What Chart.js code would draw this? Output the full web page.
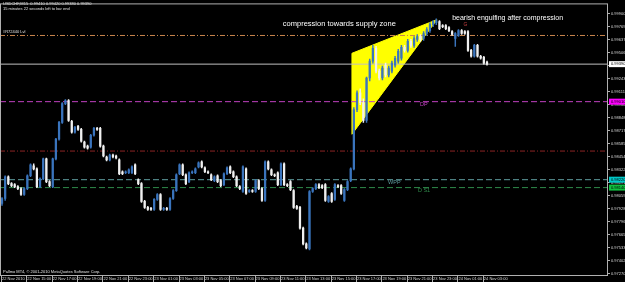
<!DOCTYPE html>
<html>
<head>
<meta charset="utf-8">
<script src="https://cdn.jsdelivr.net/npm/chart.js@4.4.1/dist/chart.umd.min.js"></script>
<style>
  html, body { margin: 0; padding: 0; background: #000; }
  #wrap { width: 625px; height: 282px; }
</style>
</head>
<body>
<div id="wrap"><canvas id="chart"></canvas></div>
<script>
// USDCHF M15 - bar 0 is 22 Nov 2010 13:00, one bar every 15 minutes
const opens = [
  0.9798, 0.9803, 0.9825, 0.9818, 0.9817, 0.9815, 0.9813, 0.9807, 0.9813, 0.9826,
  0.9836, 0.9833, 0.9815, 0.9823, 0.9843, 0.9820, 0.9815, 0.9843, 0.9863, 0.9880,
  0.9899, 0.9902, 0.9881, 0.9870, 0.9876, 0.9873, 0.9860, 0.9856, 0.9855, 0.9867,
  0.9874, 0.9874, 0.9856, 0.9845, 0.9842, 0.9847, 0.9846, 0.9842, 0.9830, 0.9829,
  0.9829, 0.9829, 0.9837, 0.9822, 0.9818, 0.9800, 0.9794, 0.9793, 0.9792, 0.9802,
  0.9807, 0.9792, 0.9793, 0.9792, 0.9803, 0.9811, 0.9828, 0.9837, 0.9827, 0.9820,
  0.9829, 0.9829, 0.9835, 0.9840, 0.9834, 0.9830, 0.9827, 0.9821, 0.9826, 0.9821,
  0.9817, 0.9828, 0.9835, 0.9830, 0.9825, 0.9815, 0.9810, 0.9833, 0.9810, 0.9811,
  0.9810, 0.9821, 0.9813, 0.9801, 0.9840, 0.9832, 0.9827, 0.9829, 0.9817, 0.9838,
  0.9817, 0.9820, 0.9811, 0.9795, 0.9794, 0.9773, 0.9757, 0.9752, 0.9810, 0.9813,
  0.9817, 0.9816, 0.9817, 0.9800, 0.9808, 0.9802, 0.9816, 0.9816, 0.9801, 0.9812,
  0.9821, 0.9833, 0.9893, 0.9910, 0.9900, 0.9882, 0.9925, 0.9942, 0.9955, 0.9932,
  0.9925, 0.9938, 0.9928, 0.9932, 0.9938, 0.9942, 0.9945, 0.9956, 0.9953, 0.9962,
  0.9958, 0.9964, 0.9967, 0.9965, 0.9970, 0.9973, 0.9979, 0.9981, 0.9982, 0.9978,
  0.9978, 0.9976, 0.9972, 0.9965, 0.9968, 0.9973, 0.9972, 0.9972, 0.9953, 0.9947,
  0.9958, 0.9947, 0.9946, 0.9941
];
const highs = [
  0.9804, 0.9826, 0.9826, 0.9819, 0.9818, 0.9816, 0.9814, 0.9814, 0.9827, 0.9838,
  0.9838, 0.9834, 0.9824, 0.9844, 0.9844, 0.9821, 0.9844, 0.9864, 0.9881, 0.9900,
  0.9903, 0.9903, 0.9882, 0.9876, 0.9877, 0.9874, 0.9861, 0.9857, 0.9868, 0.9875,
  0.9875, 0.9875, 0.9857, 0.9846, 0.9848, 0.9848, 0.9847, 0.9843, 0.9831, 0.9831,
  0.9833, 0.9836, 0.9838, 0.9823, 0.9819, 0.9801, 0.9795, 0.9794, 0.9803, 0.9808,
  0.9808, 0.9794, 0.9794, 0.9804, 0.9812, 0.9828, 0.9838, 0.9838, 0.9828, 0.9830,
  0.9831, 0.9834, 0.9840, 0.9841, 0.9835, 0.9831, 0.9828, 0.9826, 0.9827, 0.9822,
  0.9829, 0.9835, 0.9836, 0.9831, 0.9826, 0.9816, 0.9836, 0.9834, 0.9812, 0.9812,
  0.9822, 0.9822, 0.9814, 0.9841, 0.9841, 0.9833, 0.9828, 0.9830, 0.9839, 0.9839,
  0.9818, 0.9821, 0.9812, 0.9796, 0.9795, 0.9774, 0.9758, 0.9811, 0.9814, 0.9818,
  0.9818, 0.9817, 0.9818, 0.9806, 0.9809, 0.9818, 0.9817, 0.9817, 0.9813, 0.9821,
  0.9834, 0.9895, 0.9912, 0.9914, 0.9904, 0.9926, 0.9944, 0.9958, 0.9957, 0.9934,
  0.9937, 0.9940, 0.9937, 0.9942, 0.9947, 0.9954, 0.9958, 0.9958, 0.9964, 0.9964,
  0.9967, 0.9969, 0.9969, 0.9972, 0.9976, 0.9981, 0.9983, 0.9985, 0.9983, 0.9979,
  0.9979, 0.9977, 0.9973, 0.9971, 0.9974, 0.9974, 0.9973, 0.9973, 0.9954, 0.9959,
  0.9959, 0.9948, 0.9947, 0.9942
];
const lows = [
  0.9796, 0.9801, 0.9817, 0.9815, 0.9814, 0.9812, 0.9806, 0.9806, 0.9812, 0.9825,
  0.9832, 0.9814, 0.9814, 0.9822, 0.9819, 0.9815, 0.9814, 0.9842, 0.9862, 0.9879,
  0.9898, 0.9881, 0.9869, 0.9869, 0.9872, 0.9860, 0.9854, 0.9853, 0.9854, 0.9866,
  0.9872, 0.9855, 0.9845, 0.9841, 0.9841, 0.9844, 0.9843, 0.9827, 0.9827, 0.9828,
  0.9828, 0.9828, 0.9827, 0.9817, 0.9799, 0.9793, 0.9791, 0.9791, 0.9791, 0.9801,
  0.9791, 0.9791, 0.9791, 0.9791, 0.9802, 0.9810, 0.9827, 0.9826, 0.9817, 0.9819,
  0.9828, 0.9828, 0.9834, 0.9834, 0.9829, 0.9828, 0.9821, 0.9820, 0.9819, 0.9815,
  0.9816, 0.9827, 0.9828, 0.9824, 0.9815, 0.9812, 0.9809, 0.9807, 0.9809, 0.9809,
  0.9809, 0.9812, 0.9800, 0.9800, 0.9832, 0.9826, 0.9825, 0.9816, 0.9816, 0.9816,
  0.9815, 0.9811, 0.9793, 0.9792, 0.9772, 0.9756, 0.9752, 0.9751, 0.9809, 0.9812,
  0.9813, 0.9813, 0.9800, 0.9799, 0.9799, 0.9801, 0.9814, 0.9807, 0.9800, 0.9811,
  0.9820, 0.9832, 0.9891, 0.9898, 0.9880, 0.9880, 0.9922, 0.9940, 0.9930, 0.9923,
  0.9923, 0.9926, 0.9926, 0.9930, 0.9936, 0.9940, 0.9943, 0.9951, 0.9951, 0.9956,
  0.9956, 0.9962, 0.9962, 0.9963, 0.9968, 0.9971, 0.9977, 0.9979, 0.9974, 0.9976,
  0.9974, 0.9972, 0.9968, 0.9957, 0.9967, 0.9969, 0.9969, 0.9952, 0.9946, 0.9946,
  0.9946, 0.9944, 0.9939, 0.9938
];
const closes = [
  0.9803, 0.9825, 0.9818, 0.9816, 0.9815, 0.9813, 0.9807, 0.9813, 0.9826, 0.9837,
  0.9833, 0.9815, 0.9823, 0.9843, 0.9820, 0.9816, 0.9843, 0.9863, 0.9880, 0.9899,
  0.9902, 0.9882, 0.9870, 0.9875, 0.9873, 0.9861, 0.9855, 0.9854, 0.9867, 0.9874,
  0.9873, 0.9856, 0.9846, 0.9842, 0.9847, 0.9845, 0.9844, 0.9828, 0.9828, 0.9830,
  0.9832, 0.9835, 0.9828, 0.9818, 0.9800, 0.9794, 0.9792, 0.9792, 0.9802, 0.9807,
  0.9792, 0.9793, 0.9792, 0.9803, 0.9811, 0.9827, 0.9837, 0.9827, 0.9818, 0.9829,
  0.9830, 0.9833, 0.9839, 0.9835, 0.9830, 0.9829, 0.9822, 0.9825, 0.9820, 0.9816,
  0.9828, 0.9834, 0.9829, 0.9825, 0.9816, 0.9813, 0.9835, 0.9808, 0.9811, 0.9810,
  0.9821, 0.9813, 0.9801, 0.9840, 0.9833, 0.9827, 0.9826, 0.9817, 0.9838, 0.9817,
  0.9816, 0.9812, 0.9794, 0.9793, 0.9773, 0.9757, 0.9753, 0.9810, 0.9813, 0.9817,
  0.9814, 0.9814, 0.9801, 0.9805, 0.9800, 0.9817, 0.9815, 0.9808, 0.9812, 0.9820,
  0.9833, 0.9893, 0.9910, 0.9900, 0.9882, 0.9925, 0.9942, 0.9955, 0.9932, 0.9925,
  0.9935, 0.9928, 0.9935, 0.9940, 0.9945, 0.9952, 0.9956, 0.9953, 0.9962, 0.9958,
  0.9965, 0.9967, 0.9964, 0.9970, 0.9974, 0.9979, 0.9982, 0.9983, 0.9975, 0.9977,
  0.9975, 0.9973, 0.9969, 0.9970, 0.9973, 0.9970, 0.9970, 0.9953, 0.9947, 0.9958,
  0.9947, 0.9945, 0.9940, 0.9939
];

// time axis labels, one every 8 bars (2 hours)
const xTickLabels = [
  "22 Nov 2010", "22 Nov 15:00", "22 Nov 17:00", "22 Nov 19:00", "22 Nov 21:00",
  "22 Nov 23:00", "23 Nov 01:00", "23 Nov 03:00", "23 Nov 05:00", "23 Nov 07:00",
  "23 Nov 09:00", "23 Nov 11:00", "23 Nov 13:00", "23 Nov 15:00", "23 Nov 17:00",
  "23 Nov 19:00", "23 Nov 21:00", "23 Nov 23:00", "24 Nov 01:00", "24 Nov 03:00"
];
const yTickValues = [
  0.99900, 0.99769, 0.99637, 0.99506, 0.99374, 0.99243, 0.99111, 0.98980, 0.98848,
  0.98717, 0.98585, 0.98454, 0.98322, 0.98191, 0.98059, 0.97928, 0.97796, 0.97665,
  0.97533, 0.97402, 0.97270
];

// horizontal levels
const levelNames = ["#R72440 Lvl", "Bid", "DP", "Lvl", "WPP", "D S1"];
const levelPrices = [0.9968, 0.9939, 0.9901, 0.9851, 0.9822, 0.9814];

// compression wedge (bar index, price)
const wedgeX = [110.4, 137.2, 110.4, 110.4];
const wedgeY = [0.9950, 0.9984, 0.9868, 0.9950];

const X_MIN = -0.63, X_MAX = 191.17;

const levelStyles = [
  { color: "#c8844c", dash: [5, 2, 1, 2], box: null },
  { color: "#c0c0c0", dash: [], box: "#ffffff" },
  { color: "#c040c0", dash: [6, 3], box: "#ff00ff" },
  { color: "#8c2424", dash: [5, 2, 1, 2], box: null },
  { color: "#5f9ea0", dash: [6, 3], box: "#00c8c8" },
  { color: "#2f8a4a", dash: [6, 3], box: "#10c040" }
];
// where the level names are written (bar index), null = not written on chart
const levelLabelAt = [0.3, null, 131.9, null, 121.8, 131.2];

const notes = [
  { text: "compression towards supply zone", x: 88.6, y: 0.9980, color: "#ffffff", size: 7.5 },
  { text: "bearish engulfing after compression", x: 142.0, y: 0.9986, color: "#ffffff", size: 7 },
  { text: "G", x: 145.6, y: 0.9979, color: "#c84040", size: 5 }
];

const FONT = "'Liberation Sans', Arial, sans-serif";
const BULL = "#3a74bd", BEAR = "#f0f0f0";

const candleColors = opens.map((o, i) => closes[i] >= o ? BULL : BEAR);
const bodyData = opens.map((o, i) => ({ x: i, y: [o, closes[i]] }));
const wickData = opens.map((o, i) => ({ x: i, y: [lows[i], highs[i]] }));

const datasets = [];
datasets.push({
  type: "bar", data: bodyData, backgroundColor: candleColors,
  barThickness: 1.6, minBarLength: 1, grouped: false, borderWidth: 0, order: 0
});
datasets.push({
  type: "bar", data: wickData, backgroundColor: candleColors,
  barThickness: 0.8, grouped: false, borderWidth: 0, order: 1
});
levelPrices.forEach((p, k) => {
  datasets.push({
    type: "line",
    data: [{ x: X_MIN, y: p }, { x: X_MAX, y: p }],
    borderColor: levelStyles[k].color, borderWidth: 1,
    borderDash: levelStyles[k].dash, pointRadius: 0, fill: false, order: 2
  });
});
datasets.push({
  type: "line",
  data: wedgeX.map((x, i) => ({ x: x, y: wedgeY[i] })),
  borderColor: "#ffff00", backgroundColor: "#ffff00", borderWidth: 1,
  pointRadius: 0, fill: "shape", tension: 0, order: 3
});

const overlay = {
  id: "overlay",
  beforeDraw(chart) {
    const ctx = chart.ctx;
    ctx.save();
    ctx.fillStyle = "#000";
    ctx.fillRect(0, 0, chart.width, chart.height);
    ctx.restore();
  },
  afterDatasetsDraw(chart) {
    const ctx = chart.ctx;
    const xs = chart.scales.x, ys = chart.scales.y;
    ctx.save();
    ctx.textBaseline = "middle";
    ctx.textAlign = "left";
    // level names
    levelPrices.forEach((p, k) => {
      if (levelLabelAt[k] === null) return;
      const px = xs.getPixelForValue(levelLabelAt[k]);
      const py = ys.getPixelForValue(p);
      if (k === 0) {
        ctx.font = "4px " + FONT;
        ctx.fillStyle = "#e0e0e0";
        ctx.fillText(levelNames[k], px, py - 4);
      } else {
        ctx.font = "5.5px " + FONT;
        ctx.fillStyle = levelStyles[k].color;
        ctx.fillText(levelNames[k], px, py + 3);
      }
    });
    notes.forEach(n => {
      ctx.font = n.size + "px " + FONT;
      ctx.fillStyle = n.color;
      ctx.fillText(n.text, xs.getPixelForValue(n.x), ys.getPixelForValue(n.y));
    });
    ctx.restore();
  },
  afterDraw(chart) {
    const ctx = chart.ctx;
    const a = chart.chartArea;
    const xs = chart.scales.x, ys = chart.scales.y;
    ctx.save();
    // frame
    ctx.strokeStyle = "#b0b0b0";
    ctx.lineWidth = 1;
    ctx.strokeRect(a.left + 0.5, a.top + 0.5, a.right - a.left - 1, a.bottom - a.top);
    // time separators under the axis
    xTickLabels.forEach((_, k) => {
      const px = Math.round(xs.getPixelForValue(k * 8)) - 0.5;
      ctx.beginPath();
      ctx.moveTo(px, a.bottom);
      ctx.lineTo(px, chart.height);
      ctx.stroke();
    });
    // price boxes on the right scale
    ctx.font = "4px " + FONT;
    ctx.textBaseline = "middle";
    ctx.textAlign = "left";
    levelPrices.forEach((p, k) => {
      const box = levelStyles[k].box;
      if (!box) return;
      const py = ys.getPixelForValue(p);
      ctx.fillStyle = box;
      ctx.fillRect(a.right + 1, py - 3, chart.width - a.right - 1, 6);
      ctx.fillStyle = "#000";
      ctx.fillText(p.toFixed(5), a.right + 3, py);
    });
    // header and footer text
    ctx.fillStyle = "#e0e0e0";
    ctx.textBaseline = "middle";
    ctx.fillText("USDCHF,M15  0.99410 0.99420 0.99380 0.99390", 3, 4);
    ctx.fillText("15 minutes 22 seconds left to bar end", 3, 9);
    ctx.fillText("Pallmo MT4, \u00a9 2001-2010 MetaQuotes Software Corp.", 3, a.bottom - 3);
    ctx.restore();
  }
};

new Chart(document.getElementById("chart"), {
  type: "bar",
  data: { datasets: datasets },
  options: {
    responsive: true,
    maintainAspectRatio: false,
    animation: false,
    layout: { padding: 0 },
    plugins: { legend: { display: false }, tooltip: { enabled: false } },
    scales: {
      x: {
        type: "linear", position: "bottom", min: X_MIN, max: X_MAX, offset: false,
        grid: { display: true, drawOnChartArea: false, drawTicks: false, offset: false },
        border: { display: false },
        ticks: {
          autoSkip: false, maxRotation: 0, align: "start", padding: 1,
          color: "#d8d8d8", font: { size: 4, family: FONT },
          callback: v => xTickLabels[Math.round(v / 8)] || ""
        },
        afterBuildTicks: s => { s.ticks = xTickLabels.map((_, k) => ({ value: k * 8 })); },
        afterFit: s => { s.height = 7; }
      },
      y: {
        type: "linear", position: "right", min: 0.97255, max: 1.00005,
        grid: { display: true, drawOnChartArea: false, tickLength: 2, color: "#b0b0b0" },
        border: { display: false },
        ticks: {
          padding: 1, color: "#d8d8d8", font: { size: 4, family: FONT },
          callback: v => v.toFixed(5)
        },
        afterBuildTicks: s => { s.ticks = yTickValues.map(v => ({ value: v })); },
        afterFit: s => { s.width = 17; }
      }
    }
  },
  plugins: [overlay]
});
</script>
</body>
</html>
